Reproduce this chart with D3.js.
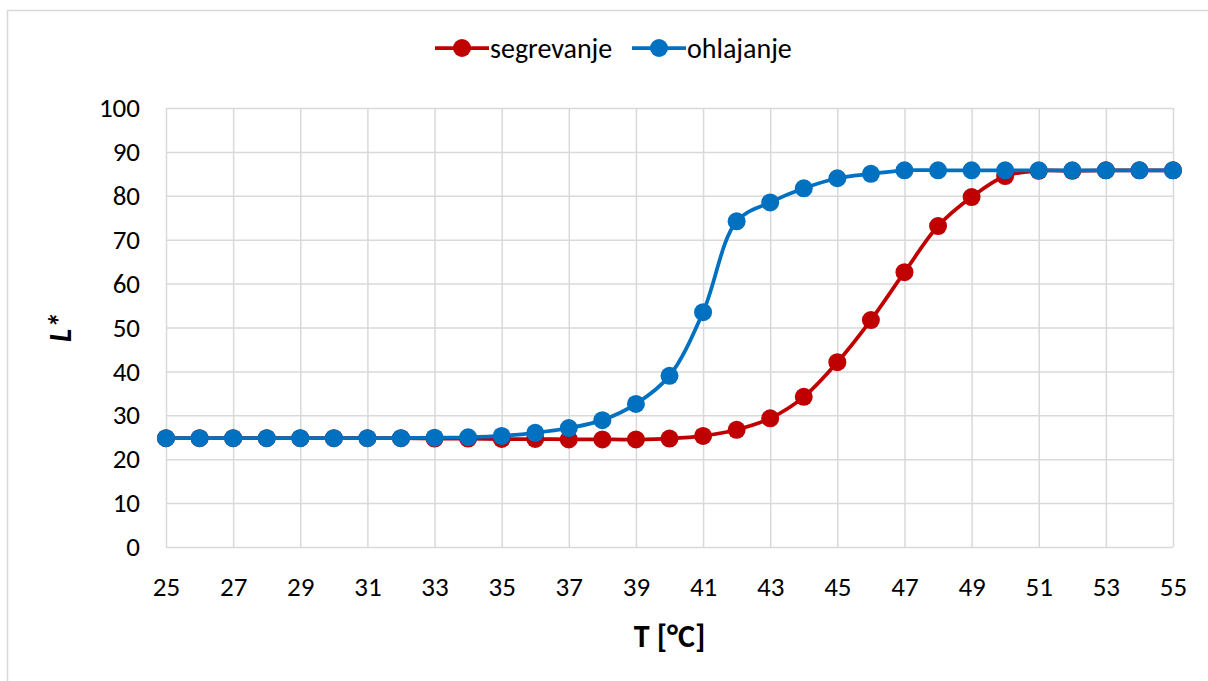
<!DOCTYPE html>
<html>
<head>
<meta charset="utf-8">
<script src="https://cdn.jsdelivr.net/npm/d3@7"></script>
<style>
  html, body { margin: 0; padding: 0; background: #fff; }
  svg { display: block; font-family: Calibri, Carlito, Lato, "Open Sans", sans-serif; }
</style>
</head>
<body>
<div id="chart"></div>
<script>
// temperatures, deg C
var temps = [25, 26, 27, 28, 29, 30, 31, 32, 33, 34, 35, 36, 37, 38, 39, 40,
  41, 42, 43, 44, 45, 46, 47, 48, 49, 50, 51, 52, 53, 54, 55];

// L* while heating
var segrevanje = [24.8, 24.8, 24.8, 24.8, 24.8, 24.8, 24.8, 24.8, 24.7, 24.7, 24.6, 24.6, 24.5, 24.5, 24.5, 24.7,
  25.3, 26.7, 29.3, 34.2, 42.1, 51.7, 62.6, 73.1, 79.7, 84.5, 85.7, 85.7, 85.8, 85.8, 85.8];

// L* while cooling
var ohlajanje = [24.8, 24.8, 24.8, 24.8, 24.8, 24.8, 24.8, 24.8, 24.9, 25.0, 25.3, 26.0, 27.1, 28.9, 32.6, 39.0,
  53.5, 74.2, 78.5, 81.7, 84.0, 85.0, 85.8, 85.8, 85.8, 85.8, 85.8, 85.8, 85.8, 85.8, 85.8];

var xTicks = d3.range(25, 56, 2);
var yTicks = d3.range(0, 101, 10);

var series = [
  { name: 'segrevanje', color: '#c00000', values: segrevanje },
  { name: 'ohlajanje', color: '#0070c0', values: ohlajanje }
];

var width = 1208;
var height = 681;
var margin = { top: 108, right: 35, bottom: 134, left: 166 };
var plotW = width - margin.left - margin.right;
var plotH = height - margin.top - margin.bottom;
var fontStack = 'Calibri, Carlito, Lato, "Open Sans", sans-serif';

var svg = d3.select('#chart')
  .append('svg')
  .attr('width', width)
  .attr('height', height);

// outer chart frame
svg.append('rect')
  .attr('x', 7.5)
  .attr('y', 10.5)
  .attr('width', width + 20)
  .attr('height', height + 20)
  .attr('fill', 'none')
  .attr('stroke', '#d9d9d9')
  .attr('stroke-width', 1.5);

var g = svg.append('g')
  .attr('transform', 'translate(' + margin.left + ',' + margin.top + ')');

var xScale = d3.scaleLinear().domain([25, 55]).range([0, plotW]);
var yScale = d3.scaleLinear().domain([0, 100]).range([plotH, 0]);

// gridlines
g.append('g')
  .attr('class', 'y grid')
  .call(d3.axisLeft(yScale).tickValues(yTicks).tickSize(-plotW).tickFormat(''))
  .call(function(sel) {
    sel.select('.domain').remove();
    sel.selectAll('line').attr('stroke', '#d9d9d9').attr('stroke-width', 1.5);
  });

g.append('g')
  .attr('class', 'x grid')
  .attr('transform', 'translate(0,' + plotH + ')')
  .call(d3.axisBottom(xScale).tickValues(xTicks).tickSize(-plotH).tickFormat(''))
  .call(function(sel) {
    sel.select('.domain').remove();
    sel.selectAll('line').attr('stroke', '#d9d9d9').attr('stroke-width', 1.5);
  });

// tick labels
g.append('g')
  .attr('class', 'y axis')
  .call(d3.axisLeft(yScale).tickValues(yTicks).tickSize(0).tickPadding(26))
  .call(function(sel) {
    sel.select('.domain').remove();
    sel.selectAll('text')
      .attr('font-size', 27)
      .attr('font-family', fontStack)
      .attr('fill', '#000');
  });

g.append('g')
  .attr('class', 'x axis')
  .attr('transform', 'translate(0,' + plotH + ')')
  .call(d3.axisBottom(xScale).tickValues(xTicks).tickSize(0).tickPadding(30))
  .call(function(sel) {
    sel.select('.domain').remove();
    sel.selectAll('text')
      .attr('font-size', 27)
      .attr('font-family', fontStack)
      .attr('fill', '#000');
  });

// axis titles
svg.append('text')
  .attr('x', margin.left + xScale(40))
  .attr('y', 647)
  .attr('text-anchor', 'middle')
  .attr('font-size', 32)
  .attr('font-weight', 'bold')
  .text('T [°C]');

svg.append('text')
  .attr('transform', 'translate(71,' + (margin.top + yScale(50)) + ') rotate(-90)')
  .attr('text-anchor', 'middle')
  .attr('font-size', 32)
  .attr('font-weight', 'bold')
  .attr('font-style', 'italic')
  .text('L*');

// lines and markers
var line = d3.line()
  .x(function(d) { return xScale(d[0]); })
  .y(function(d) { return yScale(d[1]); })
  .curve(d3.curveCatmullRom.alpha(0.5));

series.forEach(function(s) {
  var pts = temps.map(function(t, i) { return [t, s.values[i]]; });
  var sg = g.append('g').attr('class', 'series');
  sg.append('path')
    .datum(pts)
    .attr('d', line)
    .attr('fill', 'none')
    .attr('stroke', s.color)
    .attr('stroke-width', 3.75);
  sg.selectAll('.dot')
    .data(pts)
    .enter().append('circle')
    .attr('class', 'dot')
    .attr('cx', function(d) { return xScale(d[0]); })
    .attr('cy', function(d) { return yScale(d[1]); })
    .attr('r', 9)
    .attr('fill', s.color);
});

// legend
var legend = svg.append('g').attr('class', 'legend');
var legendX = [435, 632];
series.forEach(function(s, i) {
  var lg = legend.append('g').attr('transform', 'translate(' + legendX[i] + ',48)');
  lg.append('line')
    .attr('x1', 0).attr('x2', 54)
    .attr('y1', 0).attr('y2', 0)
    .attr('stroke', s.color)
    .attr('stroke-width', 3.75);
  lg.append('circle')
    .attr('cx', 27).attr('cy', 0).attr('r', 9)
    .attr('fill', s.color);
  lg.append('text')
    .attr('x', 55)
    .attr('y', 0)
    .attr('dy', '0.35em')
    .attr('font-size', 28)
    .text(s.name);
});
</script>
</body>
</html>
